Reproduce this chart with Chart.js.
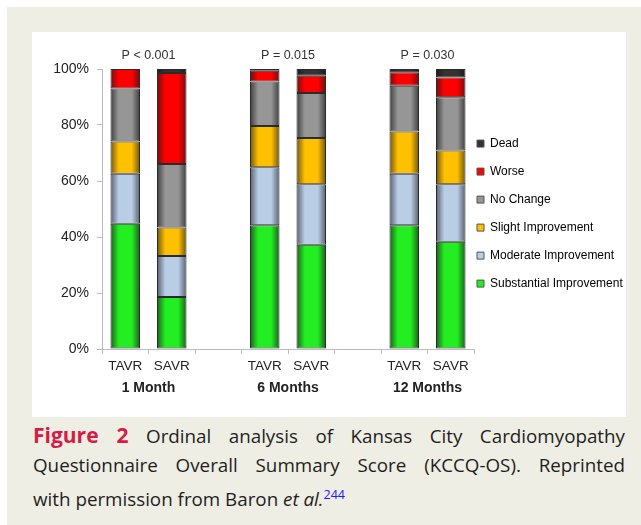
<!DOCTYPE html>
<html>
<head>
<meta charset="utf-8">
<script src="https://cdn.jsdelivr.net/npm/chart.js@4.4.0/dist/chart.umd.min.js"></script>
<style>
  body { margin: 0; background: #fff; }
  #page { position: absolute; left: 7px; top: 7px; width: 634px; height: 518px; background: #eeeee4; }
  #panel { position: absolute; left: 32px; top: 32px; width: 594px; height: 385px; background: #fff; }
  #panel canvas { position: absolute; left: 0; top: 0; }
  #caption { position: absolute; left: 33px; top: 420px; width: 592px; font-family: 'Open Sans', sans-serif; font-size: 18.8px; color: #1e1e1e; }
  #caption .ln { height: 30px; line-height: 30px; white-space: nowrap; }
  #caption .just { text-align: justify; text-align-last: justify; white-space: normal; }
  #caption .fig { color: #d81b45; font-weight: bold; font-size: 21px; }
  #caption sup { color: #1a1aff; font-size: 12.5px; }
</style>
</head>
<body>
<div id="page"></div>
<div id="panel"><canvas id="chart" width="594" height="385"></canvas></div>
<div id="caption">
  <div class="ln just"><span class="fig">Figure 2</span> Ordinal analysis of Kansas City Cardiomyopathy</div>
  <div class="ln just">Questionnaire Overall Summary Score (KCCQ-OS). Reprinted</div>
  <div class="ln">with permission from Baron <i>et al.</i><sup>244</sup></div>
</div>
<script>
// categories (blank slots keep the gap between time points)
const categories = ['TAVR', 'SAVR', '', 'TAVR', 'SAVR', '', 'TAVR', 'SAVR'];
const groups = ['1 Month', '6 Months', '12 Months'];
const pValues = ['P < 0.001', 'P = 0.015', 'P = 0.030'];

// percent of patients, bottom to top of each bar
const substantial = [44.7, 18.6, null, 44.2, 37.2, null, 44.2, 38.3];
const moderate    = [17.9, 14.6, null, 20.7, 21.6, null, 18.4, 20.5];
const slight      = [11.5, 10.2, null, 14.7, 16.6, null, 15.1, 12.1];
const noChange    = [18.9, 22.7, null, 15.9, 16.0, null, 16.3, 19.0];
const worse       = [7.0, 32.5, null, 3.9, 6.2, null, 4.8, 7.1];
const dead        = [0, 1.4, null, 0.6, 2.4, null, 1.2, 3.0];

const yTicks = [0, 20, 40, 60, 80, 100];
const BAR_PCT = 0.635;

// horizontal shading so the bars look like the old excel cylinders
function shade(base, dark) {
  return function (context) {
    const chart = context.chart;
    const { ctx, chartArea, scales } = chart;
    if (!chartArea) return base;
    const cx = scales.x.getPixelForValue(context.dataIndex);
    const half = scales.x.width / categories.length * BAR_PCT / 2;
    const g = ctx.createLinearGradient(cx - half, 0, cx + half, 0);
    g.addColorStop(0, dark);
    g.addColorStop(0.28, base);
    g.addColorStop(0.72, base);
    g.addColorStop(1, dark);
    return g;
  };
}

const series = [
  { label: 'Substantial Improvement', data: substantial, base: '#22ee22', dark: '#1d5e1d' },
  { label: 'Moderate Improvement', data: moderate, base: '#b9cde5', dark: '#56606e' },
  { label: 'Slight Improvement', data: slight, base: '#ffc000', dark: '#6e5510' },
  { label: 'No Change', data: noChange, base: '#969696', dark: '#3e3e3e' },
  { label: 'Worse', data: worse, base: '#ff0000', dark: '#6e1010' },
  { label: 'Dead', data: dead, base: '#333333', dark: '#1a1a1a' }
];

const annotations = {
  id: 'annotations',
  afterDraw(chart) {
    const { ctx, chartArea, scales } = chart;
    ctx.save();
    ctx.textAlign = 'center';
    ctx.textBaseline = 'middle';
    for (let i = 0; i < groups.length; i++) {
      const x = (scales.x.getPixelForValue(i * 3) + scales.x.getPixelForValue(i * 3 + 1)) / 2;
      ctx.fillStyle = '#333';
      ctx.font = '12.5px Arial';
      ctx.fillText(pValues[i], x, chartArea.top - 13);
      ctx.fillStyle = '#222';
      ctx.font = 'bold 14px Arial';
      ctx.fillText(groups[i], x, chartArea.bottom + 39);
    }
    ctx.restore();
  }
};

// move the legend to where it sits in the figure
const legendShift = {
  id: 'legendShift',
  afterLayout(chart) {
    const lg = chart.legend, area = chart.chartArea;
    const dx = area.right + 3 - 16 - lg.left;
    const dy = area.top + 52.6 - lg.top;
    lg.left += dx; lg.right += dx;
    lg.top += dy; lg.bottom += dy;
  }
};

new Chart(document.getElementById('chart'), {
  type: 'bar',
  data: {
    labels: categories,
    datasets: series.map(s => ({
      label: s.label,
      data: s.data,
      backgroundColor: shade(s.base, s.dark),
      borderColor: '#2a2a2a',
      borderWidth: 1,
      borderSkipped: false,
      barPercentage: BAR_PCT,
      categoryPercentage: 1
    }))
  },
  options: {
    responsive: false,
    animation: false,
    layout: { padding: { left: 0, top: 37, right: 152, bottom: 18 } },
    plugins: {
      tooltip: { enabled: false },
      legend: {
        position: 'chartArea',
        align: 'start',
        reverse: true,
        labels: {
          boxWidth: 7,
          boxHeight: 7,
          padding: 16,
          color: '#333',
          font: { family: 'Arial', size: 12 },
          generateLabels(chart) {
            return series.map((s, i) => ({
              text: s.label,
              fillStyle: s.base,
              strokeStyle: '#555',
              lineWidth: 1,
              datasetIndex: i,
              hidden: false
            }));
          }
        }
      }
    },
    scales: {
      x: {
        stacked: true,
        grid: { offset: true, drawOnChartArea: false, tickLength: 5, color: '#bbb' },
        border: { color: '#bbb' },
        ticks: { color: '#222', font: { family: 'Arial', size: 13.5 }, padding: 4, maxRotation: 0, autoSkip: false },
        afterFit(scale) { scale.height = 50; }
      },
      y: {
        stacked: true,
        min: 0,
        max: 100,
        afterBuildTicks(scale) { scale.ticks = yTicks.map(v => ({ value: v })); },
        grid: { drawOnChartArea: false, tickLength: 5, color: '#bbb' },
        border: { color: '#bbb' },
        ticks: { color: '#222', font: { family: 'Arial', size: 14 }, padding: 8, callback: v => v + '%' },
        afterFit(scale) { scale.width = 70; }
      }
    }
  },
  plugins: [annotations, legendShift]
});
</script>
</body>
</html>
